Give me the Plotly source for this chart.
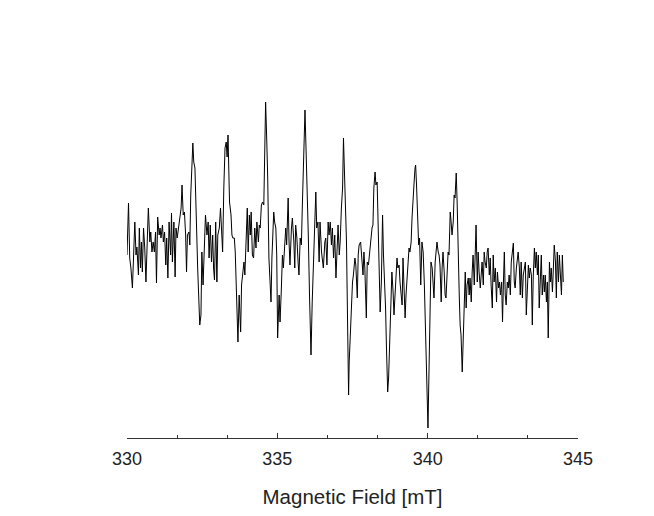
import plotly.graph_objects as go

# EPR spectrum
field_mT = [
    330.00, 330.05, 330.09, 330.13, 330.18, 330.22, 330.26, 330.30, 330.33, 330.38,
    330.41, 330.45, 330.48, 330.51, 330.55, 330.59, 330.63, 330.68, 330.71, 330.76,
    330.79, 330.83, 330.87, 330.91, 330.95, 330.98, 331.02, 331.07, 331.10, 331.13,
    331.18, 331.21, 331.25, 331.29, 331.32, 331.36, 331.40, 331.45, 331.48, 331.51,
    331.56, 331.60, 331.63, 331.67, 331.71, 331.76, 331.80, 331.83, 331.87, 331.91,
    331.95, 331.98, 332.01, 332.06, 332.09, 332.12, 332.16, 332.19, 332.22, 332.26,
    332.35, 332.39, 332.42, 332.46, 332.49, 332.53, 332.57, 332.61, 332.66, 332.70,
    332.73, 332.77, 332.81, 332.85, 332.88, 332.91, 332.95, 332.99, 333.02, 333.07,
    333.11, 333.15, 333.18, 333.22, 333.26, 333.30, 333.33, 333.36, 333.38, 333.41,
    333.46, 333.49, 333.52, 333.57, 333.60, 333.63, 333.67, 333.69, 333.73, 333.78,
    333.81, 333.85, 333.89, 333.92, 333.96, 334.00, 334.03, 334.07, 334.10, 334.13,
    334.17, 334.21, 334.25, 334.29, 334.32, 334.37, 334.40, 334.43, 334.47, 334.51,
    334.55, 334.58, 334.61, 334.65, 334.68, 334.72, 334.76, 334.79, 334.82, 334.88,
    334.91, 334.95, 334.98, 335.01, 335.06, 335.09, 335.13, 335.17, 335.20, 335.25,
    335.28, 335.31, 335.36, 335.39, 335.42, 335.47, 335.50, 335.55, 335.58, 335.61,
    335.65, 335.69, 335.72, 335.76, 335.80, 335.83, 335.87, 335.90, 335.92, 335.96,
    336.00, 336.03, 336.07, 336.10, 336.12, 336.16, 336.20, 336.25, 336.28, 336.31,
    336.35, 336.39, 336.42, 336.47, 336.50, 336.53, 336.58, 336.61, 336.65, 336.69,
    336.72, 336.76, 336.80, 336.83, 336.87, 336.91, 336.95, 336.98, 337.02, 337.06,
    337.09, 337.13, 337.17, 337.20, 337.23, 337.27, 337.30, 337.33, 337.37, 337.39,
    337.42, 337.47, 337.50, 337.53, 337.58, 337.61, 337.66, 337.69, 337.72, 337.77,
    337.80, 337.85, 337.88, 337.91, 337.96, 337.99, 338.03, 338.07, 338.11, 338.15,
    338.18, 338.21, 338.25, 338.28, 338.32, 338.36, 338.39, 338.42, 338.46, 338.50,
    338.53, 338.57, 338.60, 338.63, 338.67, 338.70, 338.73, 338.78, 338.81, 338.85,
    338.88, 338.91, 338.95, 338.98, 339.01, 339.05, 339.08, 339.11, 339.15, 339.18,
    339.21, 339.25, 339.28, 339.31, 339.35, 339.38, 339.41, 339.45, 339.48, 339.51,
    339.55, 339.58, 339.60, 339.63, 339.67, 339.70, 339.73, 339.77, 339.81, 339.85,
    339.89, 339.92, 339.96, 339.99, 340.01, 340.05, 340.08, 340.11, 340.15, 340.18,
    340.21, 340.25, 340.28, 340.31, 340.35, 340.38, 340.41, 340.45, 340.48, 340.51,
    340.55, 340.58, 340.61, 340.65, 340.68, 340.71, 340.75, 340.78, 340.81, 340.85,
    340.88, 340.91, 340.95, 340.98, 341.01, 341.05, 341.08, 341.11, 341.15, 341.18,
    341.21, 341.25, 341.28, 341.31, 341.35, 341.38, 341.41, 341.45, 341.48, 341.51,
    341.55, 341.58, 341.61, 341.65, 341.68, 341.71, 341.75, 341.78, 341.81, 341.85,
    341.88, 341.91, 341.95, 341.98, 342.01, 342.05, 342.08, 342.11, 342.15, 342.18,
    342.21, 342.25, 342.29, 342.32, 342.36, 342.39, 342.42, 342.46, 342.49, 342.52,
    342.55, 342.58, 342.61, 342.65, 342.68, 342.71, 342.75, 342.78, 342.81, 342.85,
    342.88, 342.91, 342.95, 342.98, 343.01, 343.05, 343.08, 343.11, 343.15, 343.18,
    343.21, 343.25, 343.28, 343.31, 343.35, 343.38, 343.41, 343.45, 343.48, 343.51,
    343.55, 343.58, 343.61, 343.65, 343.68, 343.71, 343.75, 343.78, 343.81, 343.85,
    343.88, 343.91, 343.95, 343.98, 344.01, 344.05, 344.08, 344.11, 344.15, 344.18,
    344.21, 344.25, 344.28, 344.31, 344.35, 344.38, 344.41, 344.45, 344.48, 344.51,
]

intensity = [
    -5, 47, -8, -18, -38, -2, 28, -5, 3, -25,
    22, -18, 8, -22, 22, 2, -32, 15, 42, 8,
    18, -2, 8, -2, 18, -33, 33, 15, 22, 12,
    25, 8, 18, -15, 12, -28, 28, -5, 37, -12,
    28, -27, 22, 12, 22, 32, 42, 65, 35, 38,
    15, -22, 15, 18, 5, 55, 98, 107, 88, 82,
    -18, -55, -75, -65, -2, -35, 12, 35, 15, 28,
    -8, 25, -12, 15, -18, -30, 28, -32, 15, 22,
    42, 22, -2, 62, 102, 108, 93, 115, 72, 48,
    35, 15, 12, 12, -2, -32, -62, -92, -45, -82,
    -35, -25, -12, -25, 18, 42, -2, 35, 15, 38,
    -5, -8, 22, 2, 28, 8, 25, 22, 45, 48,
    45, 112, 148, 108, 72, -8, -32, -52, -8, 38,
    28, 22, -5, -88, -45, -72, -42, -5, -18, 12,
    22, 5, 52, 8, -15, 22, 32, 8, -18, 25,
    12, -12, -25, 12, 5, 42, 85, 122, 140, 95,
    55, 15, -45, -92, -105, -52, -18, 15, 58, 22,
    28, -12, 28, -2, -12, -18, 8, 12, -15, 28,
    15, 28, 5, 22, -8, 15, -28, -2, 25, -5,
    8, 42, 62, 112, 75, 55, 8, -58, -145, -112,
    -92, -45, -32, -25, -8, -15, -48, -5, 5, 8,
    -2, -25, -2, -18, -68, -12, -15, -2, 12, 22,
    25, 62, 78, 65, 68, 15, -2, -62, -32, 35,
    -5, -32, -58, -98, -142, -128, -98, -32, -22, -42,
    -65, -48, -25, -8, -18, -15, -32, -42, -55, -8,
    -38, -68, -45, -32, -15, 2, -2, 8, 32, 55,
    68, 82, 85, 65, 22, 5, 12, -35, 8, -2,
    -35, -78, -128, -162, -178, -112, -52, -12, -18, -32,
    -48, -12, -2, 8, -2, -5, -15, -52, -18, -2,
    -22, -45, -48, -18, -2, -5, 38, 28, 15, 28,
    55, 52, 77, 48, -2, -45, -75, -85, -122, -85,
    -52, -22, -58, -35, -28, -45, -28, -52, -22, -5,
    -35, -8, 25, -32, -2, -22, -38, -25, -12, -35,
    -2, -12, -18, -2, 2, -25, -8, -35, -58, -5,
    -32, -18, -52, -22, -38, -32, -45, -32, -72, -32,
    -2, -45, -55, -32, -38, -25, -45, -12, -2, 7,
    -32, -38, -18, -8, -2, -18, -45, -12, -48, -25,
    -18, -12, -65, -32, -15, -28, -18, -25, -75, -28,
    2, -18, -2, -25, -5, -58, -25, -5, -45, -25,
    -42, -25, -52, -32, -88, -12, -32, -18, -42, -18,
    5, -12, -48, -2, -32, -5, -25, -45, -5, -32,
]

tick_values = [330, 335, 340, 345]
x_title = "Magnetic Field [mT]"

fig = go.Figure()
fig.add_trace(go.Scatter(x=field_mT, y=intensity, mode="lines",
                         line=dict(color="black", width=1), showlegend=False))

# the page body adds an 8px margin, so the margins are shifted to compensate
fig.update_layout(
    width=654, height=516,
    margin=dict(l=119, r=84, t=52, b=86),
    plot_bgcolor="white", paper_bgcolor="white",
    font=dict(family="Liberation Sans, Arial, sans-serif", color="#222222"),
)

fig.update_xaxes(
    range=[330, 345], tickvals=tick_values, showgrid=False, zeroline=False,
    showline=True, linecolor="#333333", linewidth=1,
    ticks="inside", ticklen=5, tickcolor="#333333", ticklabelstandoff=4,
    minor=dict(tick0=330, dtick=5 / 3, ticks="inside", ticklen=3, tickcolor="#333333"),
    tickfont=dict(size=18), title=dict(text=x_title, font=dict(size=20.5), standoff=22),
)
fig.update_yaxes(range=[-188, 190], visible=False)

fig.write_html("out.html")
